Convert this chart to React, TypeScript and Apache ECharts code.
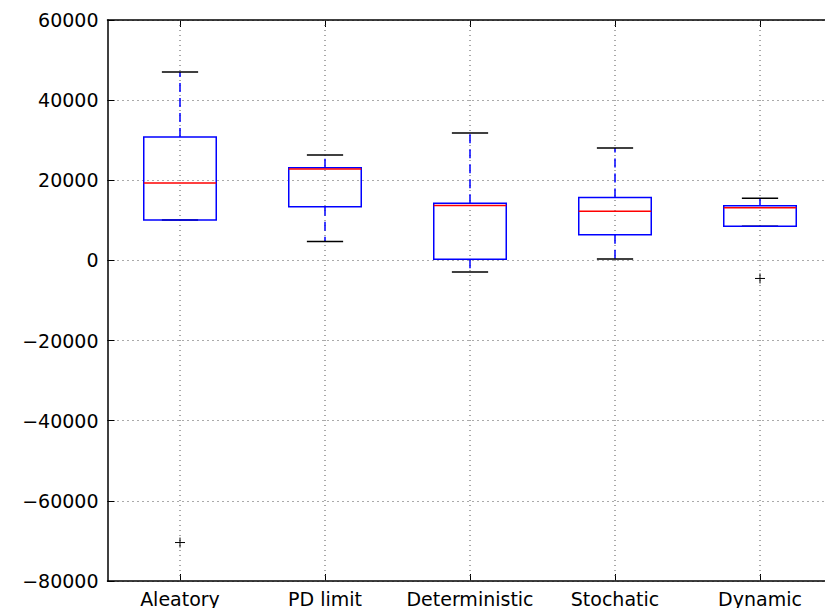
import React, { useEffect, useRef } from "react";
import * as echarts from "echarts";

const categories = ["Aleatory", "PD limit", "Deterministic", "Stochatic", "Dynamic"];
const lowWhisker = [10100, 4700, -2900, 350, 8500];
const q1 = [10100, 13400, 270, 6400, 8500];
const median = [19300, 22800, 13700, 12300, 13150];
const q3 = [30800, 23100, 14250, 15700, 13650];
const highWhisker = [47000, 26300, 31800, 28050, 15500];
const outliers: [number, number][] = [
  [0, -70400],
  [4, -4500],
];
const yTicks = { min: -80000, max: 60000, interval: 20000 };

const FONT = "DejaVu Sans";

export default function App() {
  const ref = useRef<HTMLDivElement>(null);
  useEffect(() => {
    if (!ref.current) return;
    const chart = echarts.init(ref.current, null, { renderer: "svg" });
    const boxData = categories.map((_, i) => [i, lowWhisker[i], q1[i], median[i], q3[i], highWhisker[i]]);

    const renderBox = (params: any, api: any) => {
      const idx = api.value(0);
      const pLow = api.coord([idx, api.value(1)]);
      const pQ1 = api.coord([idx, api.value(2)]);
      const pMed = api.coord([idx, api.value(3)]);
      const pQ3 = api.coord([idx, api.value(4)]);
      const pHigh = api.coord([idx, api.value(5)]);
      const bw = api.size([1, 0])[0];
      const cx = pMed[0];
      const half = bw * 0.25;
      const capHalf = bw * 0.125;
      const cs = params.coordSys;
      return {
        type: "group",
        children: [
          {
            type: "line",
            shape: { x1: cx, y1: cs.y, x2: cx, y2: cs.y + cs.height },
            style: { stroke: "#555", lineWidth: 1, lineDash: [1, 4] },
            z2: 0,
          },
          {
            type: "line",
            shape: { x1: cx, y1: pQ3[1], x2: cx, y2: pHigh[1] },
            style: { stroke: "#0000ff", lineWidth: 1.5, lineDash: [9, 6] },
            z2: 1,
          },
          {
            type: "line",
            shape: { x1: cx, y1: pQ1[1], x2: cx, y2: pLow[1] },
            style: { stroke: "#0000ff", lineWidth: 1.5, lineDash: [9, 6] },
            z2: 1,
          },
          {
            type: "line",
            shape: { x1: cx - capHalf, y1: pHigh[1], x2: cx + capHalf, y2: pHigh[1] },
            style: { stroke: "#000", lineWidth: 1.5 },
            z2: 2,
          },
          {
            type: "line",
            shape: { x1: cx - capHalf, y1: pLow[1], x2: cx + capHalf, y2: pLow[1] },
            style: { stroke: "#000", lineWidth: 1.5 },
            z2: 2,
          },
          {
            type: "rect",
            shape: { x: cx - half, y: pQ3[1], width: half * 2, height: pQ1[1] - pQ3[1] },
            style: { fill: "none", stroke: "#0000ff", lineWidth: 1.5 },
            z2: 3,
          },
          {
            type: "line",
            shape: { x1: cx - half, y1: pMed[1], x2: cx + half, y2: pMed[1] },
            style: { stroke: "#ff0000", lineWidth: 1.5 },
            z2: 4,
          },
        ],
      };
    };

    const renderOutlier = (_params: any, api: any) => {
      const p = api.coord([api.value(0), api.value(1)]);
      const s = 5;
      return {
        type: "group",
        children: [
          { type: "line", shape: { x1: p[0] - s, y1: p[1], x2: p[0] + s, y2: p[1] }, style: { stroke: "#000", lineWidth: 1 } },
          { type: "line", shape: { x1: p[0], y1: p[1] - s, x2: p[0], y2: p[1] + s }, style: { stroke: "#000", lineWidth: 1 } },
        ],
      };
    };

    chart.setOption({
      animation: false,
      backgroundColor: "#fff",
      grid: { left: 107.5, top: 20, width: 725, height: 561, containLabel: false, outerBoundsMode: "none" },
      xAxis: [
        {
          type: "category",
          data: categories,
          boundaryGap: true,
          position: "bottom",
          axisLine: { show: true, onZero: false, lineStyle: { color: "#000", width: 1.5 } },
          axisTick: { show: true, inside: true, alignWithLabel: true, length: 7, lineStyle: { color: "#000", width: 1 } },
          axisLabel: { color: "#000", fontFamily: FONT, fontSize: 19, margin: 8, interval: 0 },
          splitLine: { show: false },
        },
        {
          type: "category",
          data: categories,
          boundaryGap: true,
          position: "top",
          axisLine: { show: true, onZero: false, lineStyle: { color: "#000", width: 1.5 } },
          axisTick: { show: true, inside: true, alignWithLabel: true, length: 7, lineStyle: { color: "#000", width: 1 } },
          axisLabel: { show: false },
          splitLine: { show: false },
        },
      ],
      yAxis: {
        type: "value",
        min: yTicks.min,
        max: yTicks.max,
        interval: yTicks.interval,
        axisLine: { show: true, lineStyle: { color: "#000", width: 1.5 } },
        axisTick: { show: true, inside: true, length: 7, lineStyle: { color: "#000", width: 1 } },
        axisLabel: {
          color: "#000",
          fontFamily: FONT,
          fontSize: 19,
          margin: 9,
          formatter: (v: number) => (v < 0 ? "\u2212" + Math.abs(v) : String(v)),
        },
        splitLine: { show: true, lineStyle: { color: "#555", width: 1, type: [1, 4] } },
      },
      series: [
        {
          type: "custom",
          xAxisIndex: 0,
          renderItem: renderBox,
          data: boxData,
          encode: { x: 0, y: [1, 2, 3, 4, 5] },
          clip: false,
        },
        {
          type: "custom",
          xAxisIndex: 0,
          renderItem: renderOutlier,
          data: outliers,
          encode: { x: 0, y: 1 },
          clip: false,
        },
      ],
    });
    return () => chart.dispose();
  }, []);
  return (
    <div
      ref={ref}
      style={{ position: "absolute", left: 0, top: 0, width: 825, height: 608 }}
    />
  );
}
